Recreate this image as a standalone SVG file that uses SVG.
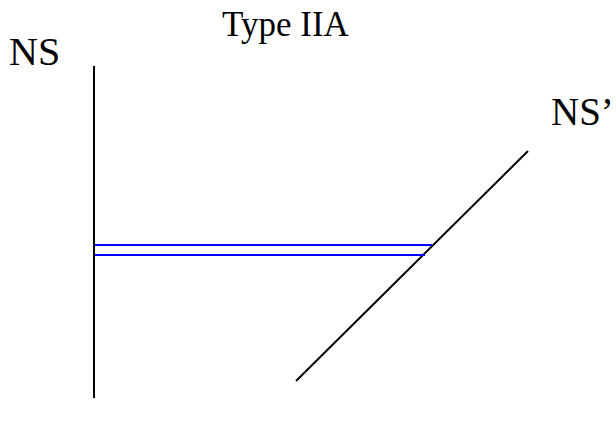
<svg xmlns="http://www.w3.org/2000/svg" width="616" height="425" viewBox="0 0 616 425">
<style>
text{font-family:"Liberation Serif","Times New Roman",serif;fill:#000}
.blk{stroke:#000;stroke-width:2;fill:none}
.blu{stroke:#0000ff;stroke-width:2;fill:none}
</style>
<rect width="616" height="425" fill="#fff"/>
<g id="title"><text x="222" y="36" font-size="35">Type IIA</text></g>
<g id="ns"><text x="9" y="65" font-size="40">NS</text></g>
<g id="nsprime"><text x="551" y="125" font-size="39">NS’</text></g>
<g id="connectors">
<line class="blk" x1="94" y1="66" x2="94" y2="398"/>
<line class="blk" x1="296" y1="381" x2="528" y2="151"/>
<line class="blu" x1="95" y1="245" x2="432" y2="245"/>
<line class="blu" x1="95" y1="255" x2="425" y2="255"/>
</g>
</svg>
